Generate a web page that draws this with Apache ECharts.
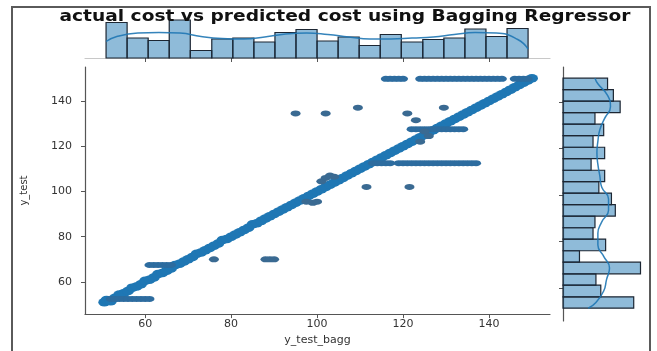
<!DOCTYPE html>
<html>
<head>
<meta charset="utf-8">
<script src="https://cdn.jsdelivr.net/npm/echarts@6.0.0/dist/echarts.min.js"></script>
<style>
  html, body { margin: 0; padding: 0; background: #fff; }
  #chart { width: 657px; height: 351px; }
</style>
</head>
<body>
<div id="chart"></div>
<script>
// tick labels shared by both axes
const tickValues = [60, 80, 100, 120, 140];

// histogram of y_test_bagg (top margin)
const baggEdges = [50.9, 55.8, 60.7, 65.6, 70.5, 75.5, 80.4, 85.3, 90.2, 95.1, 100.0,
  104.9, 109.8, 114.7, 119.6, 124.6, 129.5, 134.4, 139.3, 144.2, 149.1];
const baggCounts = [71, 40, 35, 76, 15, 38, 40, 32, 51, 57, 34, 42, 25, 47, 32, 37, 40, 58, 43, 59];
const baggKdeX = [50.9, 53.4, 58.3, 63.2, 68.1, 73.0, 77.9, 82.9, 87.8, 92.7, 97.6,
  102.5, 107.4, 112.3, 117.2, 122.1, 127.0, 131.9, 136.8, 141.7, 146.7, 149.1];
const baggKde = [33, 43, 50, 51, 50, 43, 39, 38, 42, 48, 50, 47, 42, 38, 38, 40, 42, 47, 51, 50, 37, 18];

// histogram of y_test (right margin), bottom to top
const testEdges = [51.3, 56.2, 61.2, 66.1, 71.1, 76.0, 81.0, 85.9, 90.9, 95.8, 100.8,
  105.7, 110.6, 115.6, 120.5, 125.5, 130.4, 135.4, 140.3, 145.3, 150.2];
const testCounts = [73, 39, 34, 80, 17, 44, 31, 33, 54, 50, 37, 43, 29, 43, 31, 42, 33, 59, 52, 46];
const testKdeY = [51.3, 53.8, 58.7, 63.7, 68.6, 73.6, 78.5, 83.5, 88.4, 93.4, 98.3,
  103.3, 108.2, 113.1, 118.1, 123.0, 128.0, 132.9, 137.9, 142.8, 147.8, 150.2];
const testKde = [26, 34, 42, 45, 48, 42, 36, 36, 40, 47, 47, 40, 38, 36, 35, 36, 38, 43, 49, 46, 36, 33];

// scatter: [y_test_bagg, y_test]
const diagonalPts = [[50.5,51],[51,52],[52,51.5],[53,53],[54,54.5],[55,55],[56,56],[57,57.5],[58,58],[59,59],
  [60,60.5],[61,61],[62,62],[63,63.5],[64,64],[65,65],[66,66],[67,67.5],[68,68],[69,69],
  [70,70],[71,71],[72,72.5],[73,73],[74,74],[75,75],[76,76],[77,77],[78,78.5],[79,79],
  [80,80],[81,81],[82,82],[83,83],[84,84],[85,85.5],[86,86],[87,87],[88,88],[89,89],
  [90,90],[91,91],[92,92],[93,93],[94,94],[95,95],[96,96],[97,97],[98,98],[99,99],
  [100,100],[101,101],[102,102],[103,103],[104,104],[105,105],[106,106],[107,107],[108,108],[109,109],
  [110,110],[111,111],[112,112],[113,113],[114,114],[115,115],[116,116],[117,117],[118,118],[119,119],
  [120,120],[121,121],[122,122],[123,123],[124,124],[125,125],[126,126],[127,127],[128,128],[129,129],
  [130,130],[131,131],[132,132],[133,133],[134,134],[135,135],[136,136],[137,137],[138,138],[139,139],
  [140,140],[141,141],[142,142],[143,143],[144,144],[145,145],[146,146],[147,147],[148,148],[149,149],[150,150]];
const stripPts = [
  [52,52.5],[53,52.5],[54,52.5],[55,52.5],[56,52.5],[57,52.5],[58,52.5],[59,52.5],[60,52.5],[61,52.5],
  [61,67.5],[62,67.5],[63,67.5],[64,67.5],[65,67.5],[66,67.5],
  [122,127.5],[123,127.5],[124,127.5],[125,127.5],[126,127.5],[127,127.5],[128,127.5],[129,127.5],
  [130,127.5],[131,127.5],[132,127.5],[133,127.5],[134,127.5],
  [113,112.5],[114,112.5],[115,112.5],[116,112.5],[117,112.5],[119,112.5],[120,112.5],[121,112.5],
  [122,112.5],[123,112.5],[124,112.5],[125,112.5],[126,112.5],[127,112.5],[128,112.5],[129,112.5],
  [130,112.5],[131,112.5],[132,112.5],[133,112.5],[134,112.5],[135,112.5],[136,112.5],[137,112.5],
  [116,149.8],[117,149.8],[118,149.8],[119,149.8],[120,149.8],
  [124,149.8],[125,149.8],[126,149.8],[127,149.8],[128,149.8],[129,149.8],[130,149.8],[131,149.8],
  [132,149.8],[133,149.8],[134,149.8],[135,149.8],[136,149.8],[137,149.8],[138,149.8],[139,149.8],
  [140,149.8],[141,149.8],[142,149.8],[143,149.8],
  [146,149.8],[147,149.8],[148,149.8],[149,149.8]];
const outlierPts = [
  [76,70],[88,70],[89,70],[90,70],
  [97.5,95.5],[99,95],[100,95.5],
  [101,104.5],[102,106],[103,107],[104,106.5],
  [95,134.5],[102,134.5],[121,134.5],
  [109.5,137],[129.5,137],[123,131.5],
  [124,122],[125,126.5],[126,124.5],
  [111.5,102],[121.5,102]];

const blue = '#1f77b4';
const ellipse = 'path://M50,0A50,50,0,1,1,50,100A50,50,0,1,1,50,0Z';
const axisGray = '#555';
const font = 'DejaVu Sans';

const chart = echarts.init(document.getElementById('chart'), null, { renderer: 'canvas' });

function histBarsX(params, api) {
  const i = params.dataIndex;
  const p0 = api.coord([baggEdges[i], 0]);
  const p1 = api.coord([baggEdges[i + 1], api.value(1)]);
  return {
    type: 'rect',
    shape: { x: p0[0], y: p1[1], width: p1[0] - p0[0], height: p0[1] - p1[1] },
    style: { fill: 'rgba(31,119,180,0.5)', stroke: '#1c2633', lineWidth: 1.2 }
  };
}

function histBarsY(params, api) {
  const i = params.dataIndex;
  const p0 = api.coord([0, testEdges[i]]);
  const p1 = api.coord([api.value(0), testEdges[i + 1]]);
  return {
    type: 'rect',
    shape: { x: p0[0], y: p1[1], width: p1[0] - p0[0], height: p0[1] - p1[1] },
    style: { fill: 'rgba(31,119,180,0.5)', stroke: '#1c2633', lineWidth: 1.2 }
  };
}

chart.setOption({
  backgroundColor: '#fff',
  animation: false,
  grid: [
    { left: 85, top: 67, width: 465, height: 254 },
    { left: 85, top: 7, width: 465, height: 51 },
    { left: 563, top: 67, width: 93, height: 254 }
  ],
  xAxis: [{
    gridIndex: 0, type: 'value', min: 46, max: 154.2,
    name: 'y_test_bagg', nameLocation: 'middle', nameGap: 19,
    nameTextStyle: { fontFamily: font, fontSize: 11, color: '#333' },
    splitLine: { show: false },
    axisLine: { onZero: false, lineStyle: { color: axisGray, width: 1.2 } },
    axisTick: { customValues: tickValues, length: 4, lineStyle: { color: axisGray } },
    axisLabel: { customValues: tickValues, fontFamily: font, fontSize: 11, color: '#333', margin: 5 }
  }, {
    gridIndex: 1, type: 'value', min: 46, max: 154.2,
    splitLine: { show: false },
    axisLine: { onZero: false, lineStyle: { color: '#c8c8c8', width: 1.2 } },
    axisTick: { customValues: tickValues, length: 4, inside: false, lineStyle: { color: axisGray } },
    axisLabel: { show: false }
  }, {
    gridIndex: 2, type: 'value', min: 0, max: 96,
    splitLine: { show: false },
    axisLine: { show: false },
    axisTick: { show: false },
    axisLabel: { show: false }
  }],
  yAxis: [{
    gridIndex: 0, type: 'value', min: 45.8, max: 155,
    name: 'y_test', nameLocation: 'middle', nameGap: 56,
    nameTextStyle: { fontFamily: font, fontSize: 10, color: '#333' },
    splitLine: { show: false },
    axisLine: { show: true, onZero: false, lineStyle: { color: axisGray, width: 1.2 } },
    axisTick: { show: true, customValues: tickValues, length: 4, lineStyle: { color: axisGray } },
    axisLabel: { customValues: tickValues, fontFamily: font, fontSize: 11, color: '#333', margin: 13 }
  }, {
    gridIndex: 1, type: 'value', min: 0, max: 102,
    splitLine: { show: false },
    axisLine: { show: false },
    axisTick: { show: false },
    axisLabel: { show: false }
  }, {
    gridIndex: 2, type: 'value', min: 45.8, max: 155,
    splitLine: { show: false },
    axisLine: { show: true, onZero: false, lineStyle: { color: axisGray, width: 1.2 } },
    axisTick: { show: true, customValues: tickValues, length: 4, lineStyle: { color: axisGray } },
    axisLabel: { show: false }
  }],
  series: [{
    name: 'diagonal', type: 'scatter', xAxisIndex: 0, yAxisIndex: 0,
    symbol: ellipse, symbolSize: [12, 8.5],
    itemStyle: { color: blue, opacity: 1 },
    data: diagonalPts
  }, {
    name: 'strips', type: 'scatter', xAxisIndex: 0, yAxisIndex: 0,
    symbol: ellipse, symbolSize: [10, 6],
    itemStyle: { color: '#2d6c9f', opacity: 1 },
    data: stripPts
  }, {
    name: 'outliers', type: 'scatter', xAxisIndex: 0, yAxisIndex: 0,
    symbol: ellipse, symbolSize: [10, 6],
    itemStyle: { color: '#3a6a92', opacity: 1 },
    data: outlierPts
  }, {
    name: 'hist_bagg', type: 'custom', xAxisIndex: 1, yAxisIndex: 1,
    renderItem: histBarsX,
    data: baggCounts.map((c, i) => [i, c])
  }, {
    name: 'kde_bagg', type: 'line', xAxisIndex: 1, yAxisIndex: 1,
    smooth: 0.5, symbol: 'none',
    lineStyle: { color: blue, width: 1.5, opacity: 0.9 },
    data: baggKdeX.map((x, i) => [x, baggKde[i]])
  }, {
    name: 'hist_test', type: 'custom', xAxisIndex: 2, yAxisIndex: 2,
    renderItem: histBarsY,
    data: testCounts.map((c, i) => [c, i])
  }, {
    name: 'kde_test', type: 'line', xAxisIndex: 2, yAxisIndex: 2,
    smooth: 0.5, symbol: 'none',
    lineStyle: { color: blue, width: 1.5, opacity: 0.9 },
    data: testKdeY.map((y, i) => [testKde[i], y])
  }],
  graphic: [{
    type: 'rect', z: 100, silent: true,
    shape: { x: 12, y: 7, width: 638, height: 360 },
    style: { fill: 'none', stroke: '#5a5a5a', lineWidth: 2 }
  }, {
    type: 'text', z: 100, x: 345, y: 17, scaleX: 1.24,
    style: {
      text: 'actual cost vs predicted cost using Bagging Regressor',
      align: 'center', verticalAlign: 'middle',
      fontFamily: font, fontSize: 15, fontWeight: 'bold', fill: '#111'
    }
  }]
});
</script>
</body>
</html>
